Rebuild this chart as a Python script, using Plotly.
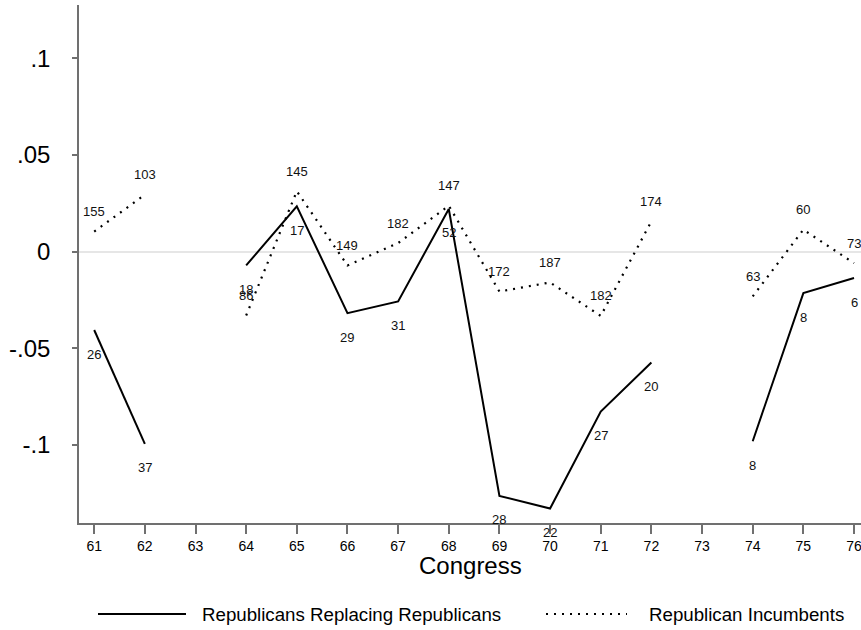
import plotly.graph_objects as go

# Congress numbers on the x axis
congress = [61, 62, 63, 64, 65, 66, 67, 68, 69, 70, 71, 72, 73, 74, 75, 76]

# Republicans replacing Republicans (solid line); None marks a missing Congress
replacing = [-0.0405, -0.0994, None, -0.0071, 0.0235, -0.0318, -0.0257, 0.0221,
             -0.1263, -0.1328, -0.0827, -0.0573, None, -0.0980, -0.0214, -0.0136]
replacing_n = ["26", "37", "", "18", "17", "29", "31", "52",
               "28", "22", "27", "20", "", "8", "8", "6"]

# Republican incumbents (dotted line)
incumbents = [0.0104, 0.0295, None, -0.0330, 0.0313, -0.0071, 0.0045, 0.0238,
              -0.0206, -0.0159, -0.0332, 0.0157, None, -0.0231, 0.0114, -0.0059]
incumbents_n = ["155", "103", "", "86", "145", "149", "182", "147",
                "172", "187", "182", "174", "", "63", "60", "73"]

y_tickvals = [-0.1, -0.05, 0, 0.05, 0.1]
y_ticktext = ["-.1", "-.05", "0", ".05", ".1"]

legend_names = ["Republicans Replacing Republicans", "Republican Incumbents"]

FONT = "Liberation Sans, Arial, sans-serif"
W, H = 861, 630
L, R, T, B = 79, 0, 5, 107

fig = go.Figure()

fig.add_trace(go.Scatter(
    x=congress, y=replacing, mode="lines", connectgaps=False,
    line=dict(color="black", width=2), name=legend_names[0], showlegend=False))
fig.add_trace(go.Scatter(
    x=congress, y=incumbents, mode="lines", connectgaps=False,
    line=dict(color="black", width=2.2, dash="2px,6px"), name=legend_names[1],
    showlegend=False))

annotations = []
# sample sizes: solid-series labels below the point, dotted-series labels above
for c, v, t in zip(congress, replacing, replacing_n):
    if v is None:
        continue
    annotations.append(dict(x=c, y=v, xref="x", yref="y", text=t, showarrow=False,
                            yshift=-24, font=dict(family=FONT, size=13, color="#111")))
for c, v, t in zip(congress, incumbents, incumbents_n):
    if v is None:
        continue
    annotations.append(dict(x=c, y=v, xref="x", yref="y", text=t, showarrow=False,
                            yshift=20, font=dict(family=FONT, size=13, color="#111")))

pw = W - L - R
ph = H - T - B


def px_x(p):
    return (p - L) / pw


def px_y(p):
    return (H - B - p) / ph


# axis title
annotations.append(dict(x=0.5, y=px_y(565), xref="paper", yref="paper",
                        text="Congress", showarrow=False, yanchor="middle",
                        font=dict(family=FONT, size=24, color="black")))

# legend drawn below the plot
ly = 614
shapes = [
    dict(type="line", xref="paper", yref="paper", x0=px_x(98), x1=px_x(186),
         y0=px_y(ly), y1=px_y(ly), line=dict(color="black", width=2)),
    dict(type="line", xref="paper", yref="paper", x0=px_x(546), x1=px_x(627),
         y0=px_y(ly), y1=px_y(ly), line=dict(color="black", width=2.2, dash="2px,6px")),
]
annotations.append(dict(x=px_x(200), y=px_y(ly), xref="paper", yref="paper",
                        text=legend_names[0], showarrow=False, xanchor="left",
                        yanchor="middle", font=dict(family=FONT, size=18.7, color="black")))
annotations.append(dict(x=px_x(647), y=px_y(ly), xref="paper", yref="paper",
                        text=legend_names[1], showarrow=False, xanchor="left",
                        yanchor="middle", font=dict(family=FONT, size=18.7, color="black")))

fig.update_layout(
    width=W, height=H,
    margin=dict(l=L, r=R, t=T, b=B),
    paper_bgcolor="white", plot_bgcolor="white",
    font=dict(family=FONT, color="black"),
    annotations=annotations, shapes=shapes,
    showlegend=False,
)

fig.update_xaxes(
    range=[60.70, 76.138], tickvals=congress, ticktext=[str(c) for c in congress],
    showgrid=False, zeroline=False,
    showline=True, linecolor="#707070", linewidth=1.5,
    ticks="outside", ticklen=9, tickwidth=1.5, tickcolor="#707070",
    tickfont=dict(family=FONT, size=14, color="black"),
    ticklabeloverflow="allow",
)
fig.update_yaxes(
    range=[-0.1403, 0.1276], tickvals=y_tickvals, ticktext=y_ticktext,
    showgrid=False, zeroline=True, zerolinecolor="#e6e6e6", zerolinewidth=2,
    showline=True, linecolor="#707070", linewidth=1.5,
    ticks="outside", ticklen=5, tickwidth=1.5, tickcolor="#707070",
    tickfont=dict(family=FONT, size=24, color="black"),
    ticklabelstandoff=17,
)

fig.write_html("out.html")
